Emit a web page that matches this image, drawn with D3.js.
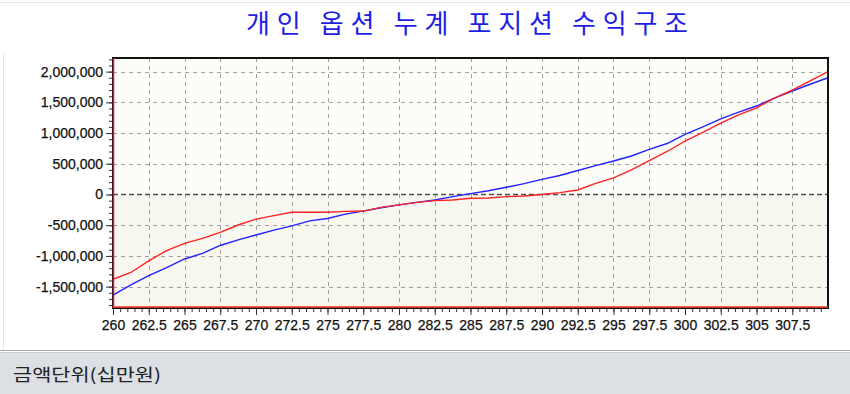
<!DOCTYPE html>
<html>
<head>
<meta charset="utf-8">
<script src="https://cdn.jsdelivr.net/npm/d3@7"></script>
<style>
    body { margin: 0; background: #ffffff; }
    svg { display: block; }
    .tick-label { font-family: "Liberation Sans", Arial, sans-serif; font-size: 14px; fill: #111; stroke: #111; stroke-width: 0.25px; }
</style>
</head>
<body>
<svg id="chart" width="850" height="394"></svg>
<script>
"use strict";

// underlying price points
var strikes = [260, 261.25, 262.5, 263.75, 265, 266.25, 267.5, 268.75, 270, 271.25,
    272.5, 273.75, 275, 276.25, 277.5, 278.75, 280, 281.25, 282.5, 283.75,
    285, 286.25, 287.5, 288.75, 290, 291.25, 292.5, 293.75, 295, 296.25,
    297.5, 298.75, 300, 301.25, 302.5, 303.75, 305, 306.25, 307.5, 308.75, 310];

// red series (cumulative position, current)
var redValues = [-1380000, -1270000, -1080000, -915000, -795000, -715000, -617000, -497000, -400000, -345000,
    -290000, -290000, -290000, -275000, -270000, -210000, -170000, -128000, -100000, -90000,
    -62000, -57000, -35000, -25000, 0, 30000, 73000, 180000, 270000, 400000,
    550000, 700000, 870000, 1010000, 1160000, 1295000, 1410000, 1570000, 1700000, 1850000, 2000000];

// blue series
var blueValues = [-1640000, -1470000, -1320000, -1190000, -1050000, -960000, -830000, -740000, -660000, -580000,
    -510000, -430000, -390000, -320000, -270000, -215000, -170000, -128000, -90000, -35000,
    15000, 60000, 117000, 176000, 247000, 310000, 390000, 470000, 545000, 627000,
    735000, 830000, 980000, 1100000, 1230000, 1340000, 1440000, 1570000, 1685000, 1795000, 1900000];

var xTicks = [260, 262.5, 265, 267.5, 270, 272.5, 275, 277.5, 280, 282.5, 285, 287.5,
    290, 292.5, 295, 297.5, 300, 302.5, 305, 307.5];
var yTicks = [-1500000, -1000000, -500000, 0, 500000, 1000000, 1500000, 2000000];

var titleText = "개인 옵션 누계 포지션 수익구조";
var unitText = "금액단위(십만원)";

var svg = d3.select("#chart");
var W = 850, H = 394;
var plot = {left: 113, top: 58, right: 828, bottom: 308};

var x = d3.scaleLinear().domain([260, 310]).range([plot.left, plot.right]);
var y = d3.scaleLinear().domain([-1848000, 2222000]).range([plot.bottom, plot.top]);

var commaFormat = d3.format(",");
function formatMoney(d) {
    // plain hyphen, not the unicode minus d3 uses
    return commaFormat(d).replace("\u2212", "-");
}

// panel outlines and bottom status bar
svg.append("rect").attr("x", 0).attr("y", 0).attr("width", W).attr("height", H).attr("fill", "#ffffff");
svg.append("line").attr("x1", 0).attr("x2", W).attr("y1", 2.5).attr("y2", 2.5)
    .attr("stroke", "#e6e6e6");
svg.append("line").attr("x1", 3.5).attr("x2", 3.5).attr("y1", 53).attr("y2", 350)
    .attr("stroke", "#e6e6e6");
svg.append("rect").attr("x", 0).attr("y", 352).attr("width", W).attr("height", H - 352)
    .attr("fill", "#dcdfe3");
svg.append("line").attr("x1", 0).attr("x2", W).attr("y1", 350.5).attr("y2", 350.5)
    .attr("stroke", "#a8a8a8");
svg.append("line").attr("x1", 0).attr("x2", W).attr("y1", 352.5).attr("y2", 352.5)
    .attr("stroke", "#c8cbcf");
svg.append("text")
    .attr("x", 13).attr("y", 381)
    .attr("textLength", 148).attr("lengthAdjust", "spacingAndGlyphs")
    .style("font-family", "'Noto Sans CJK KR', sans-serif")
    .style("font-size", "17px").style("fill", "#222")
    .text(unitText);

// title
svg.append("text")
    .attr("x", 467).attr("y", 33)
    .attr("text-anchor", "middle")
    .attr("textLength", 442).attr("lengthAdjust", "spacing")
    .style("font-family", "'Noto Sans CJK KR', sans-serif")
    .style("font-size", "26px").style("fill", "#1e1ee6")
    .text(titleText);

// plot background, slightly darker below zero
svg.append("rect")
    .attr("x", plot.left).attr("y", plot.top)
    .attr("width", plot.right - plot.left).attr("height", y(0) - plot.top)
    .attr("fill", "#fcfcf9");
svg.append("rect")
    .attr("x", plot.left).attr("y", y(0))
    .attr("width", plot.right - plot.left).attr("height", plot.bottom - y(0))
    .attr("fill", "#f8f8f1");

// grid
var grid = svg.append("g").attr("class", "grid");
grid.selectAll("line.v").data(xTicks.slice(1)).enter().append("line")
    .attr("x1", function(d) { return Math.round(x(d)) + 0.5; })
    .attr("x2", function(d) { return Math.round(x(d)) + 0.5; })
    .attr("y1", plot.top).attr("y2", plot.bottom)
    .attr("stroke", "#a0a0a0").attr("stroke-dasharray", "4,4");
grid.selectAll("line.h").data(yTicks.filter(function(d) { return d !== 0; })).enter().append("line")
    .attr("x1", plot.left).attr("x2", plot.right)
    .attr("y1", function(d) { return Math.round(y(d)) + 0.5; })
    .attr("y2", function(d) { return Math.round(y(d)) + 0.5; })
    .attr("stroke", "#a0a0a0").attr("stroke-dasharray", "4,4");
grid.append("line")
    .attr("x1", plot.left).attr("x2", plot.right)
    .attr("y1", Math.round(y(0)) + 0.5).attr("y2", Math.round(y(0)) + 0.5)
    .attr("stroke", "#505050").attr("stroke-width", 1.5).attr("stroke-dasharray", "5,3");

// series
var line = d3.line()
    .x(function(d) { return x(d[0]); })
    .y(function(d) { return y(d[1]); });

svg.append("path")
    .datum(d3.zip(strikes, blueValues))
    .attr("fill", "none").attr("stroke", "#2222ff").attr("stroke-width", 1.4)
    .attr("d", line);
svg.append("path")
    .datum(d3.zip(strikes, redValues))
    .attr("fill", "none").attr("stroke", "#ff2222").attr("stroke-width", 1.4)
    .attr("d", line);

// frame: black top/right, red-tinted left and bottom edges
svg.append("rect")
    .attr("x", plot.left).attr("y", plot.top)
    .attr("width", plot.right - plot.left).attr("height", plot.bottom - plot.top)
    .attr("fill", "none").attr("stroke", "#111").attr("stroke-width", 2);
svg.append("line")
    .attr("x1", plot.left + 0.5).attr("x2", plot.left + 0.5)
    .attr("y1", plot.top).attr("y2", plot.bottom)
    .attr("stroke", "#e0103c").attr("stroke-width", 1.5);
svg.append("line")
    .attr("x1", plot.left).attr("x2", plot.right)
    .attr("y1", plot.bottom - 1).attr("y2", plot.bottom - 1)
    .attr("stroke", "#ff3a1a").attr("stroke-width", 1.5);

// y axis with minor ticks every 100,000
var yAxis = d3.axisLeft(y)
    .tickValues(d3.range(-1800000, 2200001, 100000))
    .tickSize(3)
    .tickFormat("");
svg.append("g").attr("transform", "translate(" + (plot.left - 1) + ",0)").call(yAxis)
    .call(function(g) { g.select(".domain").remove(); })
    .selectAll("line").attr("stroke", "#333");
var yAxisMajor = d3.axisLeft(y)
    .tickValues(yTicks)
    .tickSize(6)
    .tickPadding(3)
    .tickFormat(formatMoney);
var gy = svg.append("g").attr("transform", "translate(" + (plot.left - 1) + ",0)").call(yAxisMajor);
gy.select(".domain").remove();
gy.selectAll("line").attr("stroke", "#333");
gy.selectAll("text").attr("class", "tick-label").attr("fill", null);

// x axis with minor ticks every 0.5
var xAxis = d3.axisBottom(x)
    .tickValues(d3.range(260, 310, 0.5))
    .tickSize(3)
    .tickFormat("");
svg.append("g").attr("transform", "translate(0," + (plot.bottom + 1) + ")").call(xAxis)
    .call(function(g) { g.select(".domain").remove(); })
    .selectAll("line").attr("stroke", "#333");
var xAxisMajor = d3.axisBottom(x)
    .tickValues(xTicks)
    .tickSize(6)
    .tickPadding(5)
    .tickFormat(function(d) { return String(d); });
var gx = svg.append("g").attr("transform", "translate(0," + (plot.bottom + 1) + ")").call(xAxisMajor);
gx.select(".domain").remove();
gx.selectAll("line").attr("stroke", "#333");
gx.selectAll("text").attr("class", "tick-label").attr("fill", null);
</script>
</body>
</html>
